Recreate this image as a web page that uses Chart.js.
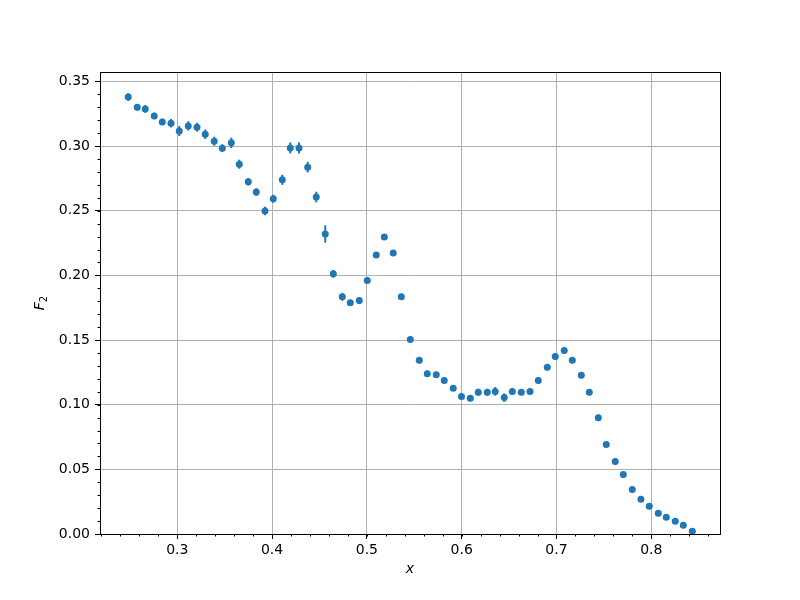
<!DOCTYPE html>
<html>
<head>
<meta charset="utf-8">
<script src="https://cdn.jsdelivr.net/npm/chart.js@4.4.1/dist/chart.umd.min.js"></script>
<style>
  body { margin: 0; background: #fff; }
  canvas { display: block; }
</style>
</head>
<body>
<canvas id="f2Chart" width="800" height="600"></canvas>
<script>
const xValues = [
  0.2483, 0.2578, 0.2662, 0.2757, 0.2842, 0.2934, 0.3021, 0.3116, 0.3208, 0.3295,
  0.3390, 0.3475, 0.3570, 0.3654, 0.3749, 0.3833, 0.3925, 0.4013, 0.4108, 0.4192,
  0.4284, 0.4376, 0.4466, 0.4561, 0.4646, 0.4741, 0.4825, 0.4920, 0.5004, 0.5099,
  0.5184, 0.5278, 0.5363, 0.5458, 0.5553, 0.5637, 0.5732, 0.5816, 0.5911, 0.5998,
  0.6091, 0.6175, 0.6270, 0.6354, 0.6449, 0.6534, 0.6629, 0.6721, 0.6808, 0.6903,
  0.6987, 0.7082, 0.7167, 0.7262, 0.7346, 0.7441, 0.7525, 0.7620, 0.7705, 0.7800,
  0.7891, 0.7979, 0.8074, 0.8158, 0.8253, 0.8338, 0.8433
];
const f2Values = [
  0.3380, 0.3300, 0.3287, 0.3233, 0.3187, 0.3177, 0.3117, 0.3156, 0.3146, 0.3092,
  0.3038, 0.2984, 0.3025, 0.2860, 0.2724, 0.2644, 0.2498, 0.2593, 0.2739, 0.2986,
  0.2986, 0.2837, 0.2606, 0.2320, 0.2012, 0.1834, 0.1788, 0.1806, 0.1960, 0.2158,
  0.2297, 0.2174, 0.1834, 0.1505, 0.1343, 0.1240, 0.1232, 0.1188, 0.1127, 0.1063,
  0.1049, 0.1096, 0.1096, 0.1103, 0.1055, 0.1103, 0.1096, 0.1103, 0.1188, 0.1289,
  0.1373, 0.1420, 0.1343, 0.1227, 0.1096, 0.0900, 0.0692, 0.0561, 0.0461, 0.0345,
  0.0268, 0.0214, 0.0160, 0.0129, 0.0098, 0.0067, 0.0021
];
const f2Errors = [
  0.0030, 0.0025, 0.0030, 0.0025, 0.0025, 0.0033, 0.0038, 0.0036, 0.0034, 0.0037,
  0.0035, 0.0030, 0.0040, 0.0035, 0.0030, 0.0030, 0.0033, 0.0031, 0.0039, 0.0043,
  0.0043, 0.0041, 0.0041, 0.0067, 0.0030, 0.0030, 0.0022, 0.0027, 0.0022, 0.0015,
  0.0015, 0.0022, 0.0022, 0.0018, 0.0022, 0.0022, 0.0022, 0.0022, 0.0022, 0.0022,
  0.0022, 0.0027, 0.0027, 0.0033, 0.0033, 0.0022, 0.0022, 0.0022, 0.0025, 0.0022,
  0.0022, 0.0025, 0.0022, 0.0022, 0.0022, 0.0022, 0.0018, 0.0015, 0.0015, 0.0015,
  0.0015, 0.0015, 0.0015, 0.0015, 0.0015, 0.0015, 0.0015
];
const xTicks = [0.3, 0.4, 0.5, 0.6, 0.7, 0.8];
const yTicks = [0, 0.05, 0.10, 0.15, 0.20, 0.25, 0.30, 0.35];

const blue = "#1f77b4";
const font = "DejaVu Sans";

// vertical error bars, drawn under the markers
const errorBars = {
  id: "errorBars",
  beforeDatasetsDraw(chart) {
    const { ctx, chartArea, scales } = chart;
    ctx.save();
    ctx.beginPath();
    ctx.rect(chartArea.left, chartArea.top, chartArea.right - chartArea.left, chartArea.bottom - chartArea.top);
    ctx.clip();
    ctx.strokeStyle = blue;
    ctx.lineWidth = 2;
    xValues.forEach((x, i) => {
      const px = scales.x.getPixelForValue(x);
      ctx.beginPath();
      ctx.moveTo(px, scales.y.getPixelForValue(f2Values[i] - f2Errors[i]));
      ctx.lineTo(px, scales.y.getPixelForValue(f2Values[i] + f2Errors[i]));
      ctx.stroke();
    });
    ctx.restore();
  }
};

// box, minor ticks and axis labels in matplotlib style
const decorations = {
  id: "decorations",
  afterDraw(chart) {
    const { ctx, chartArea, scales } = chart;
    const { left, right, top, bottom } = chartArea;
    ctx.save();
    ctx.strokeStyle = "#000";
    ctx.lineWidth = 1;

    ctx.beginPath();
    for (let v = 0.22; v < 0.875; v += 0.02) {
      const px = Math.round(scales.x.getPixelForValue(v)) + 0.5;
      ctx.moveTo(px, bottom);
      ctx.lineTo(px, bottom + 2.5);
    }
    for (let v = 0.01; v < 0.357; v += 0.01) {
      const py = Math.round(scales.y.getPixelForValue(v)) + 0.5;
      ctx.moveTo(left, py);
      ctx.lineTo(left - 2.5, py);
    }
    ctx.stroke();

    ctx.strokeRect(Math.round(left) + 0.5, Math.round(top) + 0.5,
      Math.round(right - left), Math.round(bottom - top));

    ctx.fillStyle = "#000";
    ctx.textAlign = "center";
    ctx.textBaseline = "alphabetic";
    ctx.font = "italic 14px '" + font + "'";
    ctx.fillText("x", (left + right) / 2, 573);

    ctx.translate(44, (top + bottom) / 2);
    ctx.rotate(-Math.PI / 2);
    ctx.textAlign = "left";
    ctx.font = "italic 14px '" + font + "'";
    const wF = ctx.measureText("F").width;
    ctx.font = "10px '" + font + "'";
    const w2 = ctx.measureText("2").width;
    const start = -(wF + w2) / 2;
    ctx.font = "italic 14px '" + font + "'";
    ctx.fillText("F", start, 0);
    ctx.font = "10px '" + font + "'";
    ctx.fillText("2", start + wF, 3);
    ctx.restore();
  }
};

new Chart(document.getElementById("f2Chart"), {
  type: "scatter",
  data: {
    datasets: [{
      label: "F2",
      data: xValues.map((x, i) => ({ x: x, y: f2Values[i] })),
      backgroundColor: blue,
      borderWidth: 0,
      pointRadius: 3.5,
      pointHoverRadius: 3.5
    }]
  },
  options: {
    responsive: false,
    animation: false,
    events: [],
    layout: {
      padding: { top: 72, right: 80, left: 0, bottom: 0 }
    },
    plugins: {
      legend: { display: false },
      tooltip: { enabled: false }
    },
    scales: {
      x: {
        type: "linear",
        min: 0.2185,
        max: 0.8725,
        afterBuildTicks: scale => { scale.ticks = xTicks.map(v => ({ value: v })); },
        afterFit: scale => { scale.height = 66; },
        grid: {
          color: "#b0b0b0",
          lineWidth: 1,
          tickColor: "#000",
          tickLength: 5
        },
        border: { color: "#000", width: 1 },
        ticks: {
          color: "#000",
          padding: 3,
          font: { family: font, size: 14 },
          callback: v => v.toFixed(1)
        }
      },
      y: {
        type: "linear",
        min: 0,
        max: 0.3573,
        afterBuildTicks: scale => { scale.ticks = yTicks.map(v => ({ value: v })); },
        afterFit: scale => { scale.width = 100; },
        grid: {
          color: "#b0b0b0",
          lineWidth: 1,
          tickColor: "#000",
          tickLength: 5
        },
        border: { color: "#000", width: 1 },
        ticks: {
          color: "#000",
          padding: 5,
          font: { family: font, size: 14 },
          callback: v => v.toFixed(2)
        }
      }
    }
  },
  plugins: [errorBars, decorations]
});
</script>
</body>
</html>
